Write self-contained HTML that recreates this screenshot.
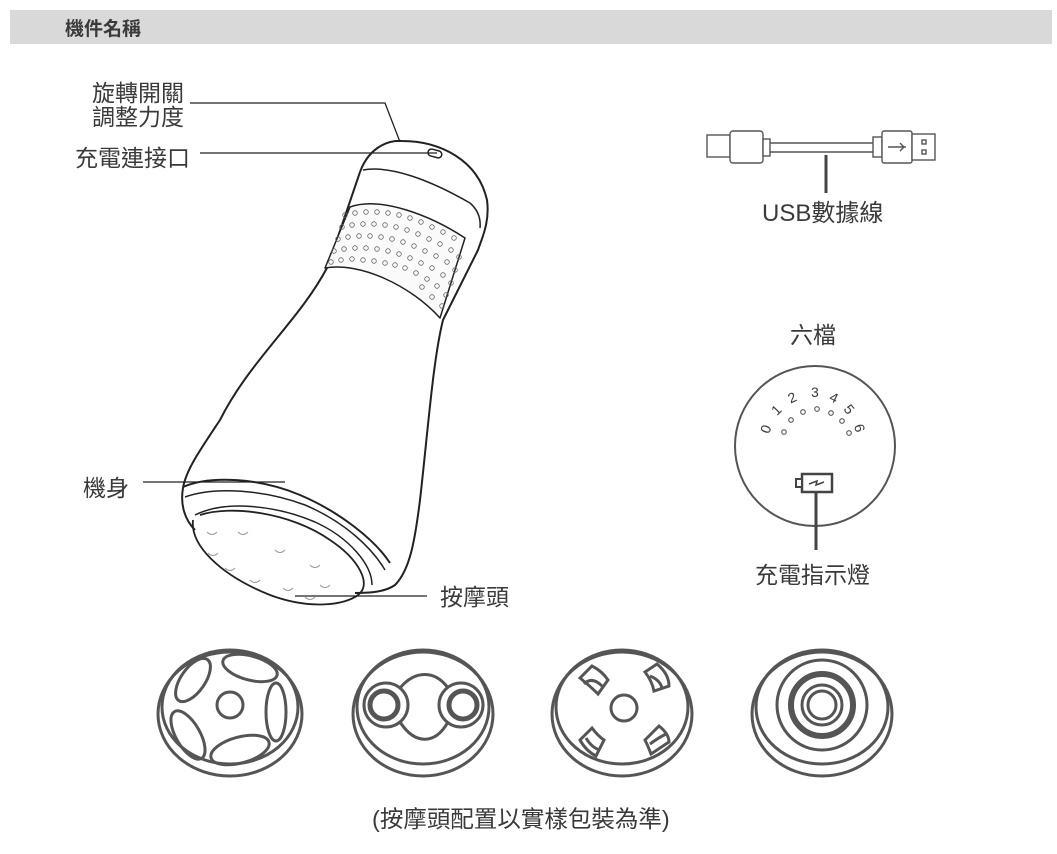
<!DOCTYPE html>
<html><head><meta charset="utf-8"><style>
body{margin:0;background:#fff;width:1057px;height:849px;overflow:hidden;font-family:"Liberation Sans","Noto Sans CJK TC",sans-serif;}
svg text{font-family:"Liberation Sans","Noto Sans CJK TC",sans-serif;fill:#3a3a3a}
</style></head><body>
<svg width="1057" height="849" viewBox="0 0 1057 849" xmlns="http://www.w3.org/2000/svg">
<rect x="10" y="10" width="1042" height="34" fill="#d9d9d9"/>
<text x="65" y="35" font-size="19" font-weight="bold">機件名稱</text>

<g font-size="23">
<text x="92" y="101">旋轉開關</text>
<text x="92" y="125">調整力度</text>
<text x="75" y="166">充電連接口</text>
<text x="83" y="496">機身</text>
<text x="440" y="605">按摩頭</text>
<text x="762" y="221" font-size="24">USB數據線</text>
<text x="790" y="343">六檔</text>
<text x="755" y="583">充電指示燈</text>
<text x="372" y="827" font-size="23.5">(按摩頭配置以實樣包裝為準)</text>
</g>
<g stroke="#222" stroke-width="1.3" fill="none">
<polyline points="190,103 385,103 400,142"/>
<line x1="200" y1="153" x2="437" y2="153"/>
<line x1="143" y1="482" x2="285" y2="482"/>
<line x1="295" y1="596" x2="427" y2="596"/>
</g>

<g stroke="#222" stroke-width="2" fill="none" stroke-linejoin="round">
<path d="M360,172 C368,150 385,140 402,141 C440,141 478,160 487,200 C490,222 482,238 478,250 L443,320 C433,360 428,430 420,500 C415,540 410,570 395,585 C385,592 370,593 355,593"/>
<path d="M360,172 L328,266 C300,320 250,360 220,420 C200,450 186,470 183,488 C180,505 185,520 195,530"/>
<path d="M363,170 C390,165 430,180 470,203 C478,210 481,218 480,228" stroke-width="1.5"/>
<path d="M350,207 C380,196 430,215 465,238 L440,318 C410,285 360,262 325,268 Z" stroke-width="1.5" fill="#fafafa"/>
<path d="M183,487 C210,475 260,478 300,495 C340,512 375,540 390,563"/>
<path d="M185,497 C215,486 265,490 305,505 C345,522 372,548 385,570" stroke-width="1.5"/>
<path d="M195,515 C225,500 275,505 315,522 C350,538 372,565 372,585" stroke-width="1.5"/>
<path d="M193,520 C190,545 220,575 270,595 C310,610 345,605 358,595 C372,585 360,560 330,540 C290,512 230,505 200,515" stroke-width="1.8"/>
<rect x="428" y="150" width="14" height="7" rx="3.5" transform="rotate(15 435 153)" stroke-width="1.5"/>
</g>
<g stroke="#666" stroke-width="0.8" fill="none">
<circle cx="345" cy="215" r="2.3"/><circle cx="355" cy="213" r="2.3"/><circle cx="366" cy="212" r="2.3"/><circle cx="377" cy="212" r="2.3"/><circle cx="388" cy="213" r="2.3"/><circle cx="399" cy="215" r="2.3"/><circle cx="410" cy="218" r="2.3"/><circle cx="421" cy="222" r="2.3"/><circle cx="432" cy="227" r="2.3"/><circle cx="443" cy="232" r="2.3"/><circle cx="454" cy="238" r="2.3"/>
<circle cx="342" cy="227" r="2.3"/><circle cx="352" cy="225" r="2.3"/><circle cx="363" cy="224" r="2.3"/><circle cx="374" cy="224" r="2.3"/><circle cx="385" cy="225" r="2.3"/><circle cx="396" cy="227" r="2.3"/><circle cx="407" cy="230" r="2.3"/><circle cx="418" cy="234" r="2.3"/><circle cx="429" cy="239" r="2.3"/><circle cx="440" cy="244" r="2.3"/><circle cx="451" cy="250" r="2.3"/><circle cx="459" cy="257" r="2.3"/>
<circle cx="338" cy="239" r="2.3"/><circle cx="348" cy="237" r="2.3"/><circle cx="359" cy="236" r="2.3"/><circle cx="370" cy="236" r="2.3"/><circle cx="381" cy="237" r="2.3"/><circle cx="392" cy="239" r="2.3"/><circle cx="403" cy="242" r="2.3"/><circle cx="414" cy="246" r="2.3"/><circle cx="425" cy="251" r="2.3"/><circle cx="436" cy="256" r="2.3"/><circle cx="447" cy="262" r="2.3"/><circle cx="455" cy="270" r="2.3"/>
<circle cx="334" cy="251" r="2.3"/><circle cx="344" cy="249" r="2.3"/><circle cx="355" cy="248" r="2.3"/><circle cx="366" cy="248" r="2.3"/><circle cx="377" cy="249" r="2.3"/><circle cx="388" cy="251" r="2.3"/><circle cx="399" cy="254" r="2.3"/><circle cx="410" cy="258" r="2.3"/><circle cx="421" cy="263" r="2.3"/><circle cx="432" cy="268" r="2.3"/><circle cx="443" cy="275" r="2.3"/><circle cx="451" cy="283" r="2.3"/>
<circle cx="331" cy="262" r="2.3"/><circle cx="341" cy="260" r="2.3"/><circle cx="352" cy="259" r="2.3"/><circle cx="363" cy="260" r="2.3"/><circle cx="374" cy="261" r="2.3"/><circle cx="385" cy="263" r="2.3"/><circle cx="395" cy="265" r="2.3"/><circle cx="405" cy="268" r="2.3"/><circle cx="416" cy="273" r="2.3"/><circle cx="427" cy="279" r="2.3"/><circle cx="437" cy="286" r="2.3"/><circle cx="446" cy="295" r="2.3"/><circle cx="432" cy="297" r="2.3"/><circle cx="442" cy="306" r="2.3"/><circle cx="422" cy="287" r="2.3"/>
</g>
<g stroke="#999" stroke-width="1" fill="none">
<path d="M207,532 q5,5 10,0"/><path d="M238,532 q5,5 10,0"/><path d="M208,553 q5,5 10,0"/><path d="M275,550 q5,5 10,0"/><path d="M225,568 q5,5 10,0"/><path d="M310,565 q5,5 10,0"/><path d="M250,580 q5,5 10,0"/><path d="M283,588 q5,5 10,0"/><path d="M320,585 q5,5 10,0"/><path d="M305,597 q5,5 10,0"/>
</g>

<g stroke="#555" stroke-width="1.4" fill="#fff">
<line x1="770" y1="143" x2="873" y2="143"/><line x1="770" y1="152" x2="873" y2="152"/>
<rect x="707" y="135" width="23" height="22"/>
<rect x="730" y="131" width="33" height="32" rx="3"/>
<rect x="763" y="139" width="7" height="17"/>
<rect x="873" y="137" width="9" height="20"/>
<rect x="882" y="131" width="30" height="32" rx="2"/>
<rect x="912" y="134" width="23" height="26"/>
<rect x="922" y="140" width="4" height="4"/><rect x="922" y="150" width="4" height="4"/>
<path d="M888,147 h18 M900,143 l4,4 -4,4" fill="none"/>
</g>
<line x1="826" y1="155" x2="826" y2="193" stroke="#444" stroke-width="3"/>

<circle cx="815" cy="446" r="80" fill="none" stroke="#555" stroke-width="2"/>
<g font-size="14" fill="#444">
<text x="761" y="433" transform="rotate(-70 766 428)">0</text>
<text x="772" y="414" transform="rotate(-45 777 409)">1</text>
<text x="788" y="402" transform="rotate(-25 793 397)">2</text>
<text x="811" y="397">3</text>
<text x="830" y="403" transform="rotate(25 835 398)">4</text>
<text x="845" y="415" transform="rotate(50 850 410)">5</text>
<text x="855" y="434" transform="rotate(75 860 429)">6</text>
</g>
<g stroke="#555" stroke-width="1.1" fill="none">
<circle cx="784" cy="432" r="2.3"/><circle cx="791" cy="420" r="2.3"/><circle cx="803" cy="412" r="2.3"/><circle cx="817" cy="409" r="2.3"/><circle cx="831" cy="413" r="2.3"/><circle cx="842" cy="421" r="2.3"/><circle cx="849" cy="433" r="2.3"/>
</g>
<g stroke="#444" stroke-width="2.5" fill="#fff">
<rect x="802" y="474" width="30" height="18"/>
<rect x="796" y="479" width="6" height="8" stroke-width="2"/>
</g>
<path d="M809,484 l8,-3 -1,4 8,-3" stroke="#444" stroke-width="1.5" fill="none"/>
<line x1="816" y1="492" x2="816" y2="550" stroke="#444" stroke-width="3"/>

<g stroke="#555" stroke-width="3" fill="none">
<ellipse cx="230" cy="714" rx="72" ry="62"/><ellipse cx="230" cy="707" rx="68" ry="57"/>
<circle cx="230" cy="705" r="13"/>
<ellipse cx="250" cy="668" rx="28" ry="12" transform="rotate(15 250 668)"/>
<ellipse cx="276" cy="712" rx="10" ry="29"/>
<ellipse cx="240" cy="750" rx="30" ry="13" transform="rotate(-15 240 750)"/>
<ellipse cx="188" cy="735" rx="12" ry="27" transform="rotate(-30 188 735)"/>
<ellipse cx="193" cy="680" rx="12" ry="25" transform="rotate(35 193 680)"/>

<ellipse cx="423" cy="714" rx="70" ry="62"/><ellipse cx="423" cy="707" rx="66" ry="57"/>
<path d="M400,688 C415,670 435,670 448,688 M400,722 C415,745 435,745 448,722"/>
<circle cx="386" cy="705" r="22"/><circle cx="461" cy="705" r="22"/>
<circle cx="384" cy="705" r="14" stroke-width="5"/><circle cx="463" cy="705" r="14" stroke-width="5"/>

<ellipse cx="622" cy="714" rx="70" ry="62"/><ellipse cx="622" cy="707" rx="66" ry="57"/>
<circle cx="624" cy="708" r="13"/>
<path d="M580,678 l12,-12 q10,5 16,14 l-10,14 q-8,-8 -18,-16 z M584,684 q8,-8 18,2"/>
<path d="M645,672 l12,-8 q12,10 12,22 l-15,5 q-2,-10 -9,-19 z M650,676 q10,4 12,12"/>
<path d="M580,740 l12,-12 q6,8 12,12 l-8,16 q-10,-5 -16,-16 z M586,738 q6,10 14,12"/>
<path d="M645,740 l14,-14 q10,8 10,16 l-18,12 q-3,-8 -6,-14 z M650,744 q8,-6 16,-10"/>

<ellipse cx="822" cy="714" rx="70" ry="62"/><ellipse cx="822" cy="707" rx="66" ry="57"/>
<circle cx="822" cy="705" r="45"/>
<circle cx="822" cy="705" r="31" stroke-width="6"/>
<circle cx="822" cy="705" r="20"/>
<circle cx="822" cy="705" r="14"/>
</g>
</svg>
</body></html>
